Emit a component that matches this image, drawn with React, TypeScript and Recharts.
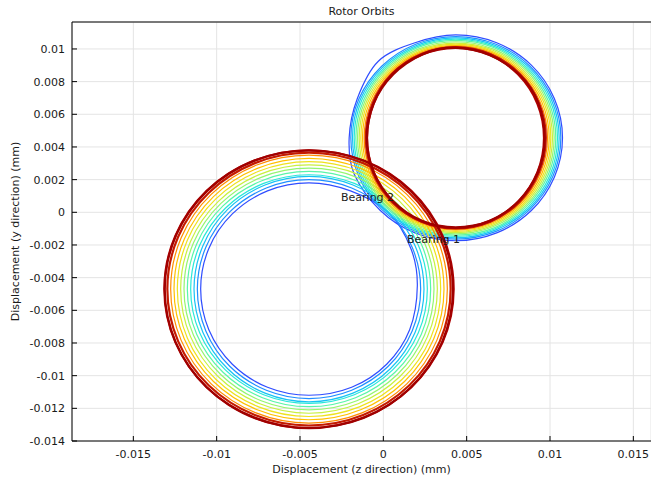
import { CartesianGrid, Label, ReferenceDot, Scatter, ScatterChart, XAxis, YAxis } from 'recharts'

// orbit samples per time step (mm). Bearing 1 = upper right, Bearing 2 = lower left
const bearing1Z = [
  [0.01075, 0.01026, 0.00888, 0.0068, 0.00435, 0.0019, -0.0003, -0.00156, -0.00205, -0.00175, -0.00018, 0.0019, 0.00435, 0.0068, 0.00888, 0.01026],
  [0.01065, 0.01017, 0.0088, 0.00676, 0.00435, 0.00194, -0.0001, -0.00147, -0.00195, -0.00147, -0.0001, 0.00194, 0.00435, 0.00676, 0.0088, 0.01017],
  [0.01055, 0.01008, 0.00873, 0.00672, 0.00435, 0.00198, -0.00003, -0.00138, -0.00185, -0.00138, -0.00003, 0.00198, 0.00435, 0.00672, 0.00873, 0.01008],
  [0.01045, 0.00999, 0.00866, 0.00668, 0.00435, 0.00202, 0.00004, -0.00129, -0.00175, -0.00129, 0.00004, 0.00202, 0.00435, 0.00668, 0.00866, 0.00999],
  [0.01035, 0.00989, 0.00859, 0.00665, 0.00435, 0.00205, 0.00011, -0.00119, -0.00165, -0.00119, 0.00011, 0.00205, 0.00435, 0.00665, 0.00859, 0.00989],
  [0.01025, 0.0098, 0.00852, 0.00661, 0.00435, 0.00209, 0.00018, -0.0011, -0.00155, -0.0011, 0.00018, 0.00209, 0.00435, 0.00661, 0.00852, 0.0098],
  [0.01015, 0.00971, 0.00845, 0.00657, 0.00435, 0.00213, 0.00025, -0.00101, -0.00145, -0.00101, 0.00025, 0.00213, 0.00435, 0.00657, 0.00845, 0.00971],
  [0.01005, 0.00962, 0.00838, 0.00653, 0.00435, 0.00217, 0.00032, -0.00092, -0.00135, -0.00092, 0.00032, 0.00217, 0.00435, 0.00653, 0.00838, 0.00962],
  [0.00995, 0.00952, 0.00831, 0.00649, 0.00435, 0.00221, 0.00039, -0.00082, -0.00125, -0.00082, 0.00039, 0.00221, 0.00435, 0.00649, 0.00831, 0.00952],
  [0.00985, 0.00943, 0.00824, 0.00645, 0.00435, 0.00225, 0.00046, -0.00073, -0.00115, -0.00073, 0.00046, 0.00225, 0.00435, 0.00645, 0.00824, 0.00943],
  [0.00975, 0.00934, 0.00817, 0.00642, 0.00435, 0.00228, 0.00053, -0.00064, -0.00105, -0.00064, 0.00053, 0.00228, 0.00435, 0.00642, 0.00817, 0.00934],
  [0.00964, 0.00924, 0.00808, 0.00636, 0.00433, 0.0023, 0.00052, -0.00058, -0.00098, -0.00058, 0.00058, 0.0023, 0.00433, 0.00636, 0.00808, 0.00924],
  [0.00958, 0.00884, 0.00731, 0.00539, 0.00331, 0.00139, -0.00008, -0.00088, -0.00088, -0.00008, 0.00139, 0.00331, 0.00539, 0.00731, 0.00878, 0.00958],
]

const bearing1Y = [
  [0.00456, 0.00697, 0.00901, 0.01038, 0.01086, 0.01038, 0.00925, 0.00697, 0.00456, 0.00235, 0.00011, -0.00126, -0.00174, -0.00126, 0.00011, 0.00215],
  [0.00456, 0.00693, 0.00894, 0.01029, 0.01076, 0.01029, 0.00894, 0.00693, 0.00456, 0.00219, 0.00018, -0.00117, -0.00164, -0.00117, 0.00018, 0.00219],
  [0.00456, 0.0069, 0.00889, 0.01021, 0.01068, 0.01021, 0.00889, 0.0069, 0.00456, 0.00222, 0.00023, -0.00109, -0.00156, -0.00109, 0.00023, 0.00222],
  [0.00456, 0.00687, 0.00883, 0.01014, 0.0106, 0.01014, 0.00883, 0.00687, 0.00456, 0.00225, 0.00029, -0.00102, -0.00148, -0.00102, 0.00029, 0.00225],
  [0.00456, 0.00684, 0.00877, 0.01007, 0.01052, 0.01007, 0.00877, 0.00684, 0.00456, 0.00228, 0.00035, -0.00095, -0.0014, -0.00095, 0.00035, 0.00228],
  [0.00456, 0.00681, 0.00872, 0.00999, 0.01044, 0.00999, 0.00872, 0.00681, 0.00456, 0.00231, 0.0004, -0.00087, -0.00132, -0.00087, 0.0004, 0.00231],
  [0.00456, 0.00678, 0.00866, 0.00992, 0.01036, 0.00992, 0.00866, 0.00678, 0.00456, 0.00234, 0.00046, -0.0008, -0.00124, -0.0008, 0.00046, 0.00234],
  [0.00456, 0.00675, 0.00861, 0.00985, 0.01029, 0.00985, 0.00861, 0.00675, 0.00456, 0.00237, 0.00051, -0.00073, -0.00117, -0.00073, 0.00051, 0.00237],
  [0.00456, 0.00673, 0.00856, 0.00979, 0.01022, 0.00979, 0.00856, 0.00673, 0.00456, 0.00239, 0.00056, -0.00067, -0.0011, -0.00067, 0.00056, 0.00239],
  [0.00456, 0.0067, 0.00852, 0.00973, 0.01016, 0.00973, 0.00852, 0.0067, 0.00456, 0.00242, 0.0006, -0.00061, -0.00104, -0.00061, 0.0006, 0.00242],
  [0.00456, 0.00668, 0.00848, 0.00969, 0.01011, 0.00969, 0.00848, 0.00668, 0.00456, 0.00244, 0.00064, -0.00057, -0.00099, -0.00057, 0.00064, 0.00244],
  [0.00455, 0.00666, 0.00845, 0.00964, 0.01006, 0.00964, 0.00845, 0.00666, 0.00455, 0.00244, 0.00065, -0.00054, -0.00096, -0.00054, 0.00065, 0.00244],
  [0.00563, 0.00761, 0.00912, 0.00994, 0.00999, 0.00912, 0.00761, 0.00563, 0.00349, 0.00151, 0.0, -0.00082, -0.00082, 0.0, 0.00151, 0.00349],
]

const bearing2Z = [
  [0.00204, 0.00165, 0.0003, -0.00197, -0.00446, -0.00695, -0.00906, -0.01047, -0.01096, -0.01047, -0.00906, -0.00695, -0.00446, -0.0019, 0.0002, 0.00158],
  [0.00224, 0.00173, 0.00028, -0.0019, -0.00446, -0.00702, -0.0092, -0.01065, -0.01116, -0.01065, -0.0092, -0.00702, -0.00446, -0.0019, 0.00028, 0.00173],
  [0.00244, 0.00191, 0.00042, -0.00182, -0.00446, -0.0071, -0.00934, -0.01083, -0.01136, -0.01083, -0.00934, -0.0071, -0.00446, -0.00182, 0.00042, 0.00191],
  [0.00264, 0.0021, 0.00056, -0.00174, -0.00446, -0.00718, -0.00948, -0.01102, -0.01156, -0.01102, -0.00948, -0.00718, -0.00446, -0.00174, 0.00056, 0.0021],
  [0.00284, 0.00228, 0.0007, -0.00167, -0.00446, -0.00725, -0.00962, -0.0112, -0.01176, -0.0112, -0.00962, -0.00725, -0.00446, -0.00167, 0.0007, 0.00228],
  [0.00304, 0.00247, 0.00084, -0.00159, -0.00446, -0.00733, -0.00976, -0.01139, -0.01196, -0.01139, -0.00976, -0.00733, -0.00446, -0.00159, 0.00084, 0.00247],
  [0.00324, 0.00265, 0.00098, -0.00151, -0.00446, -0.00741, -0.0099, -0.01157, -0.01216, -0.01157, -0.0099, -0.00741, -0.00446, -0.00151, 0.00098, 0.00265],
  [0.00344, 0.00284, 0.00113, -0.00144, -0.00446, -0.00748, -0.01005, -0.01176, -0.01236, -0.01176, -0.01005, -0.00748, -0.00446, -0.00144, 0.00113, 0.00284],
  [0.00364, 0.00302, 0.00127, -0.00136, -0.00446, -0.00756, -0.01019, -0.01194, -0.01256, -0.01194, -0.01019, -0.00756, -0.00446, -0.00136, 0.00127, 0.00302],
  [0.00384, 0.00321, 0.00141, -0.00128, -0.00446, -0.00764, -0.01033, -0.01213, -0.01276, -0.01213, -0.01033, -0.00764, -0.00446, -0.00128, 0.00141, 0.00321],
  [0.00404, 0.00339, 0.00155, -0.00121, -0.00446, -0.00771, -0.01047, -0.01231, -0.01296, -0.01231, -0.01047, -0.00771, -0.00446, -0.00121, 0.00155, 0.00339],
  [0.00422, 0.00356, 0.00168, -0.00114, -0.00446, -0.00778, -0.0106, -0.01248, -0.01314, -0.01248, -0.0106, -0.00778, -0.00446, -0.00114, 0.00168, 0.00356],
  [0.00401, 0.00272, 0.00034, -0.00278, -0.00616, -0.00928, -0.01166, -0.01295, -0.01295, -0.01166, -0.00928, -0.00616, -0.00278, 0.00034, 0.00272, 0.00401],
]

const bearing2Y = [
  [-0.0045, -0.00221, 0.0, 0.00131, 0.0018, 0.00131, -0.0001, -0.00221, -0.0047, -0.00719, -0.0093, -0.01071, -0.0112, -0.01071, -0.0093, -0.00719],
  [-0.0047, -0.00214, 0.00004, 0.00149, 0.002, 0.00149, 0.00004, -0.00214, -0.0047, -0.00726, -0.00944, -0.01089, -0.0114, -0.01089, -0.00944, -0.00726],
  [-0.0047, -0.00206, 0.00018, 0.00167, 0.0022, 0.00167, 0.00018, -0.00206, -0.0047, -0.00734, -0.00958, -0.01107, -0.0116, -0.01107, -0.00958, -0.00734],
  [-0.0047, -0.00202, 0.00025, 0.00177, 0.0023, 0.00177, 0.00025, -0.00202, -0.0047, -0.00738, -0.00965, -0.01117, -0.0117, -0.01117, -0.00965, -0.00738],
  [-0.0047, -0.00194, 0.00039, 0.00195, 0.0025, 0.00195, 0.00039, -0.00194, -0.0047, -0.00746, -0.00979, -0.01135, -0.0119, -0.01135, -0.00979, -0.00746],
  [-0.0047, -0.00187, 0.00053, 0.00214, 0.0027, 0.00214, 0.00053, -0.00187, -0.0047, -0.00753, -0.00993, -0.01154, -0.0121, -0.01154, -0.00993, -0.00753],
  [-0.0047, -0.00179, 0.00067, 0.00232, 0.0029, 0.00232, 0.00067, -0.00179, -0.0047, -0.00761, -0.01007, -0.01172, -0.0123, -0.01172, -0.01007, -0.00761],
  [-0.0047, -0.00171, 0.00082, 0.00251, 0.0031, 0.00251, 0.00082, -0.00171, -0.0047, -0.00769, -0.01022, -0.01191, -0.0125, -0.01191, -0.01022, -0.00769],
  [-0.0047, -0.00164, 0.00096, 0.00269, 0.0033, 0.00269, 0.00096, -0.00164, -0.0047, -0.00776, -0.01036, -0.01209, -0.0127, -0.01209, -0.01036, -0.00776],
  [-0.0047, -0.00156, 0.0011, 0.00288, 0.0035, 0.00288, 0.0011, -0.00156, -0.0047, -0.00784, -0.0105, -0.01228, -0.0129, -0.01228, -0.0105, -0.00784],
  [-0.0047, -0.0015, 0.0012, 0.00301, 0.00365, 0.00301, 0.0012, -0.0015, -0.0047, -0.0079, -0.0106, -0.01241, -0.01305, -0.01241, -0.0106, -0.0079],
  [-0.0047, -0.00145, 0.00131, 0.00315, 0.0038, 0.00315, 0.00131, -0.00145, -0.0047, -0.00795, -0.01071, -0.01255, -0.0132, -0.01255, -0.01071, -0.00795],
  [-0.00305, 0.00001, 0.00236, 0.00363, 0.00363, 0.00236, 0.00001, -0.00305, -0.00637, -0.00943, -0.01178, -0.01305, -0.01305, -0.01178, -0.00943, -0.00637],
]

// one colour per time step (jet), last steps settle into dark red
const stepColors = [
  '#2f4dff', '#1f8fff', '#17c3f5', '#2ae8d8', '#5af5a8', '#95f570', '#c8f040',
  '#eee21e', '#ffc000', '#ff8c00', '#c41a00', '#b00000', '#a00000',
]

const xTicks = [-0.015, -0.01, -0.005, 0, 0.005, 0.01, 0.015]
const yTicks = [-0.014, -0.012, -0.01, -0.008, -0.006, -0.004, -0.002, 0, 0.002, 0.004, 0.006, 0.008, 0.01]

const annotations = [
  { text: 'Bearing 2', z: -0.00254, y: 0.00094 },
  { text: 'Bearing 1', z: 0.00142, y: -0.00163 },
]

const xDomain: [number, number] = [-0.01868, 0.01606]
const yDomain: [number, number] = [-0.014, 0.01165]

const toPoints = (zs: number[], ys: number[]) => zs.map((z, k) => ({ z, y: ys[k] }))

const series = stepColors.flatMap((color, i) => [
  { key: `b1-${i}`, color, points: toPoints(bearing1Z[i], bearing1Y[i]) },
  { key: `b2-${i}`, color, points: toPoints(bearing2Z[i], bearing2Y[i]) },
])

const textColor = '#1a1a1a'
const noShape = () => <g />

type Pt = { x: number; y: number }

// closed catmull-rom through the pixel points recharts hands over
function OrbitPath({ points, color, width }: { points?: Pt[]; color: string; width: number }) {
  if (!points || points.length < 3) return null
  const n = points.length
  let d = `M${points[0].x},${points[0].y}`
  for (let i = 0; i < n; i++) {
    const p0 = points[(i - 1 + n) % n]
    const p1 = points[i]
    const p2 = points[(i + 1) % n]
    const p3 = points[(i + 2) % n]
    const c1x = p1.x + (p2.x - p0.x) / 6
    const c1y = p1.y + (p2.y - p0.y) / 6
    const c2x = p2.x - (p3.x - p1.x) / 6
    const c2y = p2.y - (p3.y - p1.y) / 6
    d += `C${c1x},${c1y} ${c2x},${c2y} ${p2.x},${p2.y}`
  }
  return <path d={d + 'Z'} fill="none" stroke={color} strokeWidth={width} strokeLinejoin="round" />
}

export default function App() {
  return (
    <div
      style={{
        position: 'fixed',
        left: 0,
        top: 0,
        width: 651,
        height: 479,
        background: '#fff',
        fontFamily: '"DejaVu Sans", sans-serif',
      }}
    >
      <div
        style={{
          position: 'absolute',
          left: 72,
          top: 5,
          width: 579,
          textAlign: 'center',
          fontSize: 11,
          lineHeight: '14px',
          color: textColor,
        }}
      >
        Rotor Orbits
      </div>
      <ScatterChart width={651} height={479} margin={{ top: 21, right: 0, bottom: 0, left: 0 }}>
        <CartesianGrid stroke="#e4e4e4" />
        <XAxis
          type="number"
          dataKey="z"
          domain={xDomain}
          ticks={xTicks}
          interval={0}
          allowDataOverflow
          height={38}
          stroke="#000"
          tickSize={-5}
          tickMargin={14}
          tick={{ fill: textColor, fontSize: 11 }}
        >
          <Label value="Displacement (z direction) (mm)" position="insideBottom" offset={6} fill={textColor} fontSize={11} />
        </XAxis>
        <XAxis
          xAxisId="top"
          orientation="top"
          type="number"
          domain={xDomain}
          ticks={xTicks}
          interval={0}
          allowDataOverflow
          height={1}
          stroke="#000"
          tickSize={-5}
          tick={false}
        />
        <YAxis
          type="number"
          dataKey="y"
          domain={yDomain}
          ticks={yTicks}
          interval={0}
          allowDataOverflow
          width={72}
          stroke="#000"
          tickSize={-5}
          tickMargin={12}
          tick={{ fill: textColor, fontSize: 11 }}
        >
          <Label
            content={({ viewBox }: any) => {
              const cx = viewBox.x + 15
              const cy = viewBox.y + viewBox.height / 2
              return (
                <text
                  x={cx}
                  y={cy}
                  transform={`rotate(-90 ${cx} ${cy})`}
                  textAnchor="middle"
                  dominantBaseline="central"
                  fill={textColor}
                  fontSize={11}
                >
                  Displacement (y direction) (mm)
                </text>
              )
            }}
          />
        </YAxis>
        <YAxis
          yAxisId="right"
          orientation="right"
          type="number"
          domain={yDomain}
          ticks={yTicks}
          interval={0}
          allowDataOverflow
          width={0}
          stroke="#000"
          tickSize={-5}
          tick={false}
        />
        {series.map((s, i) => (
          <Scatter
            key={s.key}
            data={s.points}
            fill={s.color}
            line={<OrbitPath color={s.color} width={i >= 20 ? 2.2 : 1.2} />}
            shape={noShape}
            isAnimationActive={false}
          />
        ))}
        {annotations.map((a) => (
          <ReferenceDot
            key={a.text}
            x={a.z}
            y={a.y}
            r={0}
            fill="none"
            stroke="none"
            ifOverflow="visible"
            label={{ value: a.text, position: 'right', offset: 0, fill: textColor, fontSize: 11 }}
          />
        ))}
      </ScatterChart>
    </div>
  )
}
